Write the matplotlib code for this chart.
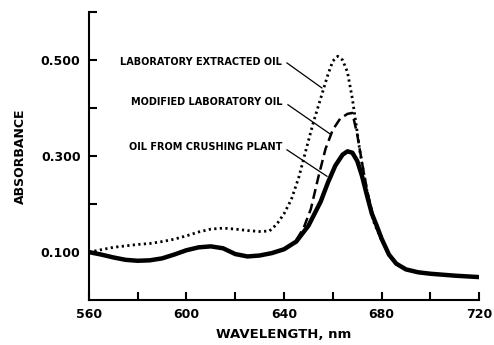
import matplotlib.pyplot as plt

# oil from crushing plant (solid)
wl_plant = [560, 565, 570, 575, 580, 585, 590, 595, 600, 605, 610, 615, 620, 625,
            630, 635, 640, 645, 650, 655, 658, 661, 664, 666, 668, 670, 672, 674,
            676, 678, 680, 683, 686, 690, 695, 700, 710, 720]
abs_plant = [0.100, 0.095, 0.089, 0.084, 0.082, 0.083, 0.087, 0.095, 0.104, 0.110,
             0.112, 0.108, 0.096, 0.091, 0.093, 0.098, 0.106, 0.122, 0.155, 0.205,
             0.245, 0.280, 0.303, 0.310, 0.307, 0.290, 0.258, 0.218, 0.180, 0.155,
             0.128, 0.095, 0.076, 0.064, 0.058, 0.055, 0.051, 0.048]

# modified laboratory oil (dashed)
wl_mod = [645, 648, 651, 654, 657, 660, 663, 666, 668, 670, 672, 674, 676, 678, 680]
abs_mod = [0.125, 0.150, 0.190, 0.255, 0.315, 0.355, 0.378, 0.388, 0.390, 0.345,
           0.285, 0.230, 0.185, 0.150, 0.125]

# laboratory extracted oil (dotted)
wl_lab = [560, 565, 570, 575, 580, 585, 590, 595, 600, 605, 610, 615, 620, 625, 630,
          634, 637, 640, 643, 646, 649, 652, 655, 658, 660, 662, 664, 666, 668, 670,
          671, 673, 675, 677, 680]
abs_lab = [0.100, 0.105, 0.110, 0.113, 0.116, 0.118, 0.122, 0.127, 0.134, 0.142,
           0.148, 0.150, 0.148, 0.145, 0.143, 0.144, 0.158, 0.180, 0.210, 0.255,
           0.313, 0.370, 0.420, 0.470, 0.498, 0.508, 0.500, 0.475, 0.420, 0.350,
           0.313, 0.255, 0.200, 0.160, 0.125]

labels = ["LABORATORY EXTRACTED OIL", "MODIFIED LABORATORY OIL", "OIL FROM CRUSHING PLANT"]
label_xy = [(639.2, 0.496), (639.5, 0.413), (639.2, 0.318)]
pointer_from = [(641.2, 0.494), (641.6, 0.407), (641.2, 0.313)]
pointer_to = [(655.5, 0.442), (659.2, 0.345), (657.6, 0.258)]

fig = plt.figure(figsize=(4.94, 3.45), dpi=100)
ax = fig.add_axes([0.180, 0.130, 0.790, 0.835])

ax.plot(wl_plant, abs_plant, color="black", lw=3.2, solid_capstyle="butt")
ax.plot(wl_mod, abs_mod, color="black", lw=1.8, linestyle=(0, (4, 2)))
ax.plot(wl_lab, abs_lab, color="black", lw=2.0, linestyle=(0, (0.8, 1.2)))

for txt, (tx, ty), p0, p1 in zip(labels, label_xy, pointer_from, pointer_to):
    ax.text(tx, ty, txt, ha="right", va="center", fontsize=7, fontweight="bold")
    ax.plot([p0[0], p1[0]], [p0[1], p1[1]], color="black", lw=0.9)

ax.set_xlim(560, 720)
ax.set_ylim(0.0, 0.6)
ax.set_xticks(range(560, 721, 20))
ax.set_xticklabels([str(v) if v % 40 == 0 else "" for v in range(560, 721, 20)])
yt = [0.1, 0.2, 0.3, 0.4, 0.5, 0.6]
ax.set_yticks(yt)
ax.set_yticklabels(["0.100", "", "0.300", "", "0.500", ""])

for s in ["top", "right"]:
    ax.spines[s].set_visible(False)
for s in ["left", "bottom"]:
    ax.spines[s].set_linewidth(1.5)

ax.tick_params(direction="in", length=6, width=1.5, labelsize=9, pad=6)
for lab in ax.get_xticklabels() + ax.get_yticklabels():
    lab.set_fontweight("bold")

ax.set_xlabel("WAVELENGTH, nm", fontsize=9.5, fontweight="bold", labelpad=5)
ax.set_ylabel("ABSORBANCE", fontsize=9, fontweight="bold", labelpad=10)

fig.savefig("out.png", dpi=100)
